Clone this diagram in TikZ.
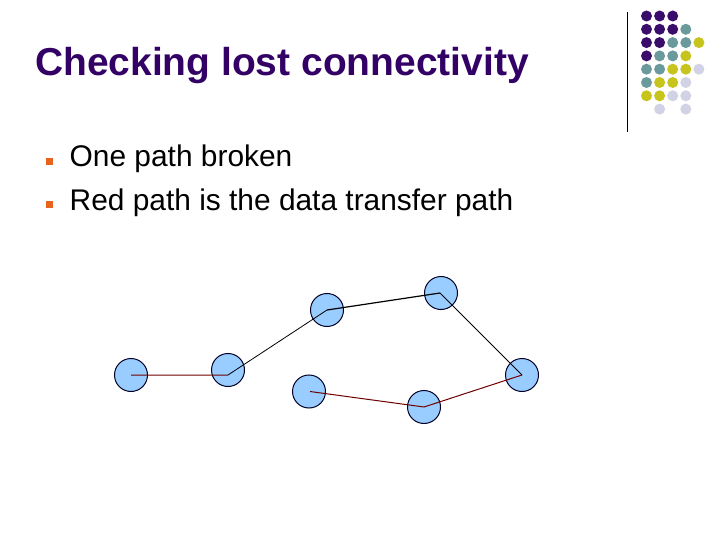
\documentclass[tikz,border=0pt]{standalone}
\usepackage{fontspec}
\setmainfont{Liberation Sans}
\definecolor{titlepurple}{HTML}{330066}
\definecolor{dpurple}{HTML}{3A0D6B}
\definecolor{dteal}{HTML}{6A9A9C}
\definecolor{dyellow}{HTML}{C8C41E}
\definecolor{dlav}{HTML}{D2D2E6}
\definecolor{bulletorange}{HTML}{E8641E}
\definecolor{nodeblue}{HTML}{99CCFF}
\definecolor{pathred}{HTML}{700000}
\tikzset{
  sensor/.style={circle, draw=black!85!blue, line width=1bp, fill=nodeblue, minimum size=33bp, inner sep=0pt},
  redlink/.style={draw=pathred, line width=1bp},
  blacklink/.style={draw=black, line width=0.8bp},
  dot/.style={circle, inner sep=0pt, minimum size=11bp, draw=none},
  bulletsq/.style={fill=bulletorange, inner sep=0pt, minimum size=7bp, draw=none},
  bodytext/.style={anchor=base west, inner sep=0pt, font=\fontsize{30}{36}\selectfont},
}
\begin{document}
\begin{tikzpicture}[x=1bp,y=-1bp]
\useasboundingbox (0,0) rectangle (720,540);
\fill[white] (0,0) rectangle (720,540);
% title
\node[anchor=base west, inner sep=0pt, text=titlepurple, font=\fontsize{39.1}{44}\selectfont\bfseries] (title) at (35,75.5) {Checking lost connectivity};
% bullets
\node[bulletsq] (b1) at (49,161.5) {};
\node[bulletsq] (b2) at (49,204.5) {};
\node[bodytext] (t1) at (69.5,167) {One path broken};
\node[bodytext] (t2) at (69.5,211) {Red path is the data transfer path};
% decoration line and dots
\draw[black, line width=1bp] (627,12.5) -- (627,132.5);
\foreach \ci/\r/\col in {0/0/dpurple,1/0/dpurple,2/0/dpurple,
  0/1/dpurple,1/1/dpurple,2/1/dpurple,3/1/dteal,
  0/2/dpurple,1/2/dpurple,2/2/dteal,3/2/dteal,4/2/dyellow,
  0/3/dpurple,1/3/dteal,2/3/dteal,3/3/dyellow,
  0/4/dteal,1/4/dteal,2/4/dyellow,3/4/dyellow,4/4/dlav,
  0/5/dteal,1/5/dyellow,2/5/dyellow,3/5/dlav,
  0/6/dyellow,1/6/dyellow,2/6/dlav,3/6/dlav,
  1/7/dlav,3/7/dlav}{
  \node[dot, fill=\col] (d\r\ci) at (646.5+13.1*\ci, 16+13.3*\r) {};
}
% sensor nodes
\node[sensor] (A) at (131,375) {};
\node[sensor] (B) at (228,370) {};
\node[sensor] (C) at (327,310) {};
\node[sensor] (D) at (441,293) {};
\node[sensor] (E) at (522,375) {};
\node[sensor] (F) at (309,391.5) {};
\node[sensor] (G) at (424,407) {};
% links
\draw[redlink] (A.center) -- ([yshift=-5bp]B.center);
\draw[blacklink] ([yshift=-5bp]B.center) -- (C.center);
\draw[blacklink, line width=1.2bp] (C.center) -- ([xshift=-1bp]D.center);
\draw[blacklink] ([xshift=-1bp]D.center) -- (E.center);
\draw[redlink] (E.center) -- (G.center);
\draw[redlink] (G.center) -- ([xshift=1bp]F.center);
\end{tikzpicture}
\end{document}
